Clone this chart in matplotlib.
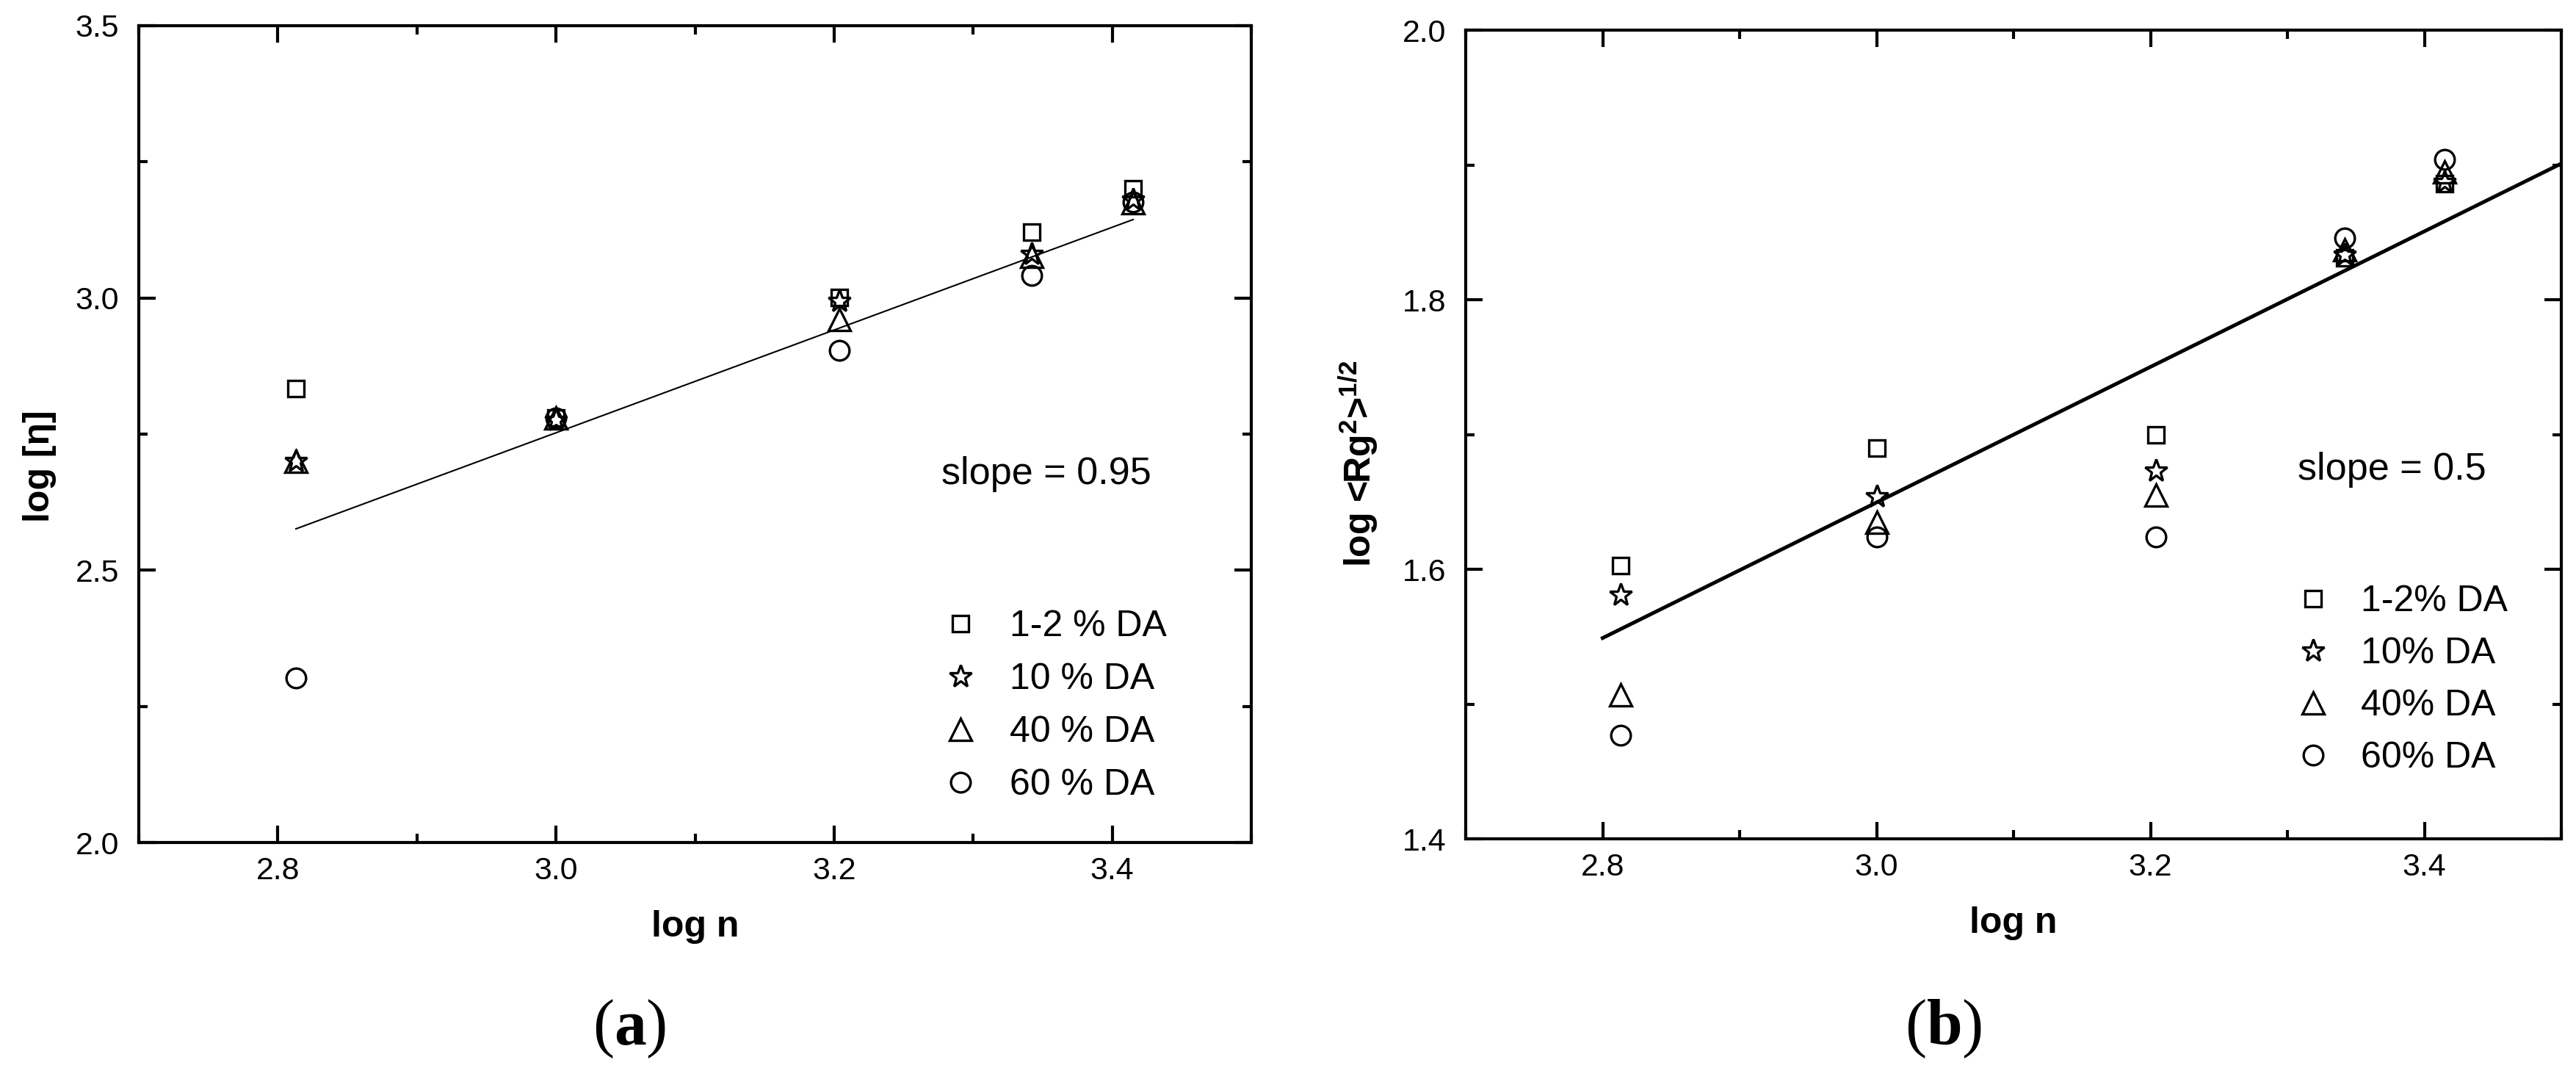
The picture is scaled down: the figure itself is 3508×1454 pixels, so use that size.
import matplotlib.pyplot as plt
from matplotlib.ticker import MultipleLocator

plt.rcParams["font.family"] = ["Liberation Sans", "DejaVu Sans"]
plt.rcParams["mathtext.fontset"] = "custom"
plt.rcParams["mathtext.bf"] = "Liberation Serif:bold"
plt.rcParams["mathtext.default"] = "regular"

# x values: log of chain length
log_n = [2.813, 3.0, 3.204, 3.342, 3.415]

# (a) intrinsic viscosity
labels_a = ["1-2 % DA", "10 % DA", "40 % DA", "60 % DA"]
eta_da2 = [2.834, 2.780, 3.001, 3.121, 3.201]
eta_da10 = [2.700, 2.775, 2.994, 3.081, 3.180]
eta_da40 = [2.700, 2.780, 2.961, 3.077, 3.175]
eta_da60 = [2.302, 2.780, 2.904, 3.042, 3.176]
fit_a_x = [2.813, 3.415]
fit_a_y = [2.576, 3.144]

# (b) radius of gyration
labels_b = ["1-2% DA", "10% DA", "40% DA", "60% DA"]
rg_da2 = [1.6025, 1.690, 1.700, 1.831, 1.886]
rg_da10 = [1.581, 1.654, 1.673, 1.833, 1.887]
rg_da40 = [1.507, 1.635, 1.655, 1.837, 1.895]
rg_da60 = [1.477, 1.624, 1.624, 1.846, 1.904]
fit_b_x = [2.80, 3.50]
fit_b_y = [1.549, 1.901]

markers = ["s", "*", "^", "o"]
msizes = [5.4, 7.6, 7.3, 6.4]

fig = plt.figure(figsize=(3508 / 300, 1454 / 300), dpi=300)
ax1 = fig.add_axes([0.05388, 0.21114, 0.48575 - 0.05388, 0.97593 - 0.21114])
ax2 = fig.add_axes([0.56899, 0.21458, 0.99430 - 0.56899, 0.9718 - 0.21458])


def style_axes(ax, ylim, ymajor, yminor):
    ax.set_xlim(2.7, 3.5)
    ax.set_ylim(*ylim)
    ax.xaxis.set_major_locator(MultipleLocator(0.2))
    ax.xaxis.set_minor_locator(MultipleLocator(0.1))
    ax.yaxis.set_major_locator(MultipleLocator(ymajor))
    ax.yaxis.set_minor_locator(MultipleLocator(yminor))
    ax.xaxis.set_major_formatter(lambda v, p: f"{v:.1f}")
    ax.yaxis.set_major_formatter(lambda v, p: f"{v:.1f}")
    ax.tick_params(which="both", direction="in", top=True, right=True, width=1.0)
    ax.tick_params(which="major", length=5.5, labelsize=10.3)
    ax.tick_params(which="minor", length=2.8)
    ax.tick_params(axis="x", pad=4.5)
    ax.tick_params(axis="y", pad=6.5)
    for sp in ax.spines.values():
        sp.set_linewidth(1.0)
    ax.set_xlabel("log n", fontsize=12, fontweight="bold", labelpad=8)


# panel (a)
for ys, m, ms, lab in zip([eta_da2, eta_da10, eta_da40, eta_da60], markers, msizes, labels_a):
    ax1.plot(log_n, ys, linestyle="none", marker=m, ms=ms, mfc="none", mec="black",
             mew=0.8, label=lab)
ax1.plot(fit_a_x, fit_a_y, color="black", lw=0.5)
style_axes(ax1, (2.0, 3.5), 0.5, 0.25)
ax1.set_ylabel("log [η]", fontsize=12, fontweight="bold")
ax1.yaxis.set_label_coords(-0.074, 0.461)
ax1.text(3.277, 2.677, "slope = 0.95", fontsize=12.5, ha="left", va="center")
ax1.legend(loc="upper left", bbox_to_anchor=(0.722, 0.285), frameon=False,
           fontsize=12, borderpad=0, borderaxespad=0, handlelength=1.0,
           handletextpad=0.85, labelspacing=0.52)

# panel (b)
for ys, m, ms, lab in zip([rg_da2, rg_da10, rg_da40, rg_da60], markers, msizes, labels_b):
    ax2.plot(log_n, ys, linestyle="none", marker=m, ms=ms, mfc="none", mec="black",
             mew=0.8, label=lab)
ax2.plot(fit_b_x, fit_b_y, color="black", lw=1.2)
style_axes(ax2, (1.4, 2.0), 0.2, 0.1)
ax2.set_ylabel("log <Rg$^{2}$>$^{1/2}$", fontsize=12, fontweight="bold")
ax2.yaxis.set_label_coords(-0.078, 0.464)
ax2.text(3.3075, 1.674, "slope = 0.5", fontsize=12.5, ha="left", va="center")
ax2.legend(loc="upper left", bbox_to_anchor=(0.757, 0.314), frameon=False,
           fontsize=12, borderpad=0, borderaxespad=0, handlelength=1.0,
           handletextpad=0.8, labelspacing=0.5)

# sub-figure captions
for xc, letter in [(857 / 3508, "a"), (2647 / 3508, "b")]:
    fig.text(xc, 0.022, "(" + r"$\mathbf{" + letter + "}$" + ")", fontsize=21,
             family="Liberation Serif", ha="center", va="baseline")

fig.savefig("out.png", dpi=300)
